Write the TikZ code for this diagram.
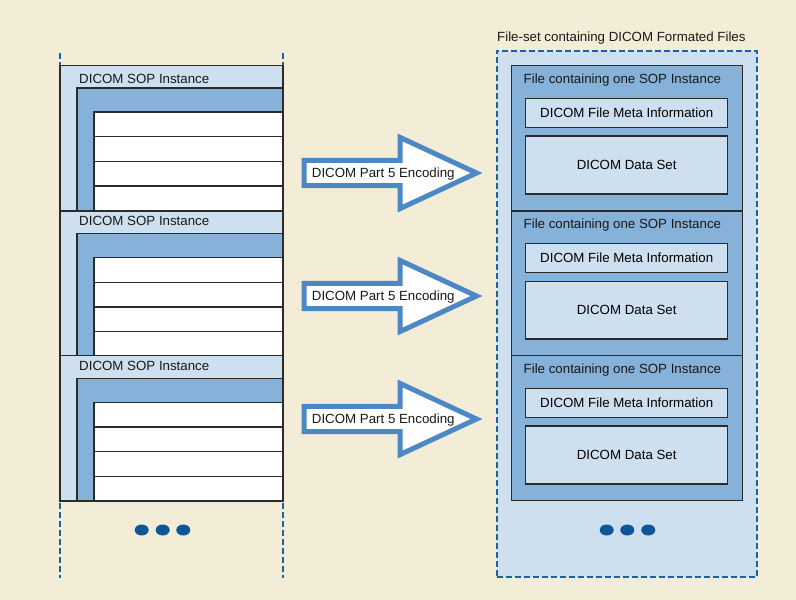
\documentclass[tikz,border=0pt]{standalone}
\usepackage{fontspec}
\setmainfont{Liberation Sans}
\usetikzlibrary{shapes.geometric}
\definecolor{bg}{HTML}{F3ECD6}
\definecolor{lightb}{HTML}{CEDFF0}
\definecolor{medb}{HTML}{86B1D8}
\definecolor{darkb}{HTML}{1A62A6}
\definecolor{dotb}{HTML}{0B5797}
\definecolor{arrowb}{HTML}{4B88C4}
\definecolor{edge}{HTML}{2B2B2B}
\begin{document}
\begin{tikzpicture}[x=1pt,y=-1pt,
  font=\fontsize{13.3}{15}\selectfont,
  box/.style={draw=edge,line width=1.4pt,inner sep=0pt,outer sep=0pt,anchor=north west},
  outerbox/.style={box,fill=lightb,minimum width=223pt},
  innerbox/.style={box,fill=medb,minimum width=206pt},
  rowbox/.style={box,fill=white,minimum width=189pt,minimum height=24.7pt},
  filebox/.style={box,fill=medb,minimum width=230.6pt},
  metabox/.style={box,fill=lightb,minimum width=202pt,minimum height=29pt},
  databox/.style={box,fill=lightb,minimum width=202pt,minimum height=57.8pt},
  lbl/.style={inner sep=0pt,anchor=base west,text=black!90},
  guide/.style={draw=darkb,line width=1.5pt,dash pattern=on 6pt off 3pt},
  frame/.style={draw=darkb,fill=lightb,line width=2pt,dash pattern=on 6pt off 3pt},
  bigarrow/.style={draw=arrowb,fill=white,line width=5pt,line join=miter},
  dot/.style={ellipse,fill=dotb,minimum width=14pt,minimum height=11pt,inner sep=0pt}
]
\useasboundingbox[fill=bg] (0,0) rectangle (796,600);

% left guides
\coordinate (gl1) at (60,53);
\coordinate (gl2) at (60,578);
\coordinate (gr1) at (283,53);
\coordinate (gr2) at (283,578);
\draw[guide] (gl1) -- (gl2);
\draw[guide] (gr1) -- (gr2);

% left SOP instances
\foreach \i/\t/\b/\ly in {1/65.3/211/83.6, 2/211/355.7/225.2, 3/355.7/501/370.6}{
  \node[outerbox,minimum height={\b-\t}] (inst\i) at (60,\t) {};
  \node[lbl] (instlbl\i) at (79,\ly) {DICOM SOP Instance};
  \node[innerbox,minimum height={\b-\t-22.6}] (inner\i) at (77,{\t+22.6}) {};
  \foreach \k in {0,1,2,3}{
    \node[rowbox] (row\i\k) at (94,{\t+46.6+\k*24.7}) {};
  }
}

% dots left
\node[dot] (ld1) at (141.7,530) {};
\node[dot] (ld2) at (162.7,530) {};
\node[dot] (ld3) at (183.3,530) {};

% right file-set
\node[lbl] (settitle) at (497,41.3) {File-set containing DICOM Formated Files};
\node[frame,anchor=north west,minimum width=260pt,minimum height=526.6pt,inner sep=0pt,outer sep=0pt] (fileset) at (496.7,50.7) {};

\foreach \i/\t/\b in {1/65.7/211, 2/211/355.7, 3/355.7/500.3}{
  \node[filebox,minimum height={\b-\t}] (file\i) at (511.7,\t) {};
  \node[lbl] (filelbl\i) at (523.5,{\t+17.6}) {File containing one SOP Instance};
  \node[metabox] (meta\i) at (525.7,{\t+32.6}) {};
  \node (metatxt\i) at (meta\i.center) {DICOM File Meta Information};
  \node[databox] (data\i) at (525.7,{\t+70.3}) {};
  \node (datatxt\i) at (data\i.center) {DICOM Data Set};
}

% dots right
\node[dot] (rd1) at (606.7,530) {};
\node[dot] (rd2) at (627.3,530) {};
\node[dot] (rd3) at (648.3,530) {};

% arrows
\foreach \i/\y in {1/173, 2/296, 3/419}{
  \coordinate (a\i) at (304.2,\y);
  \draw[bigarrow] (a\i) ++(0,-12.7) -- ++(96,0) -- ++(0,-22.8) -- ++(76.3,35.5) -- ++(-76.3,35.5) -- ++(0,-22.8) -- ++(-96,0) -- cycle;
  \node[lbl] (enc\i) at (311.7,{\y+4.7}) {DICOM Part 5 Encoding};
}
\end{tikzpicture}
\end{document}
